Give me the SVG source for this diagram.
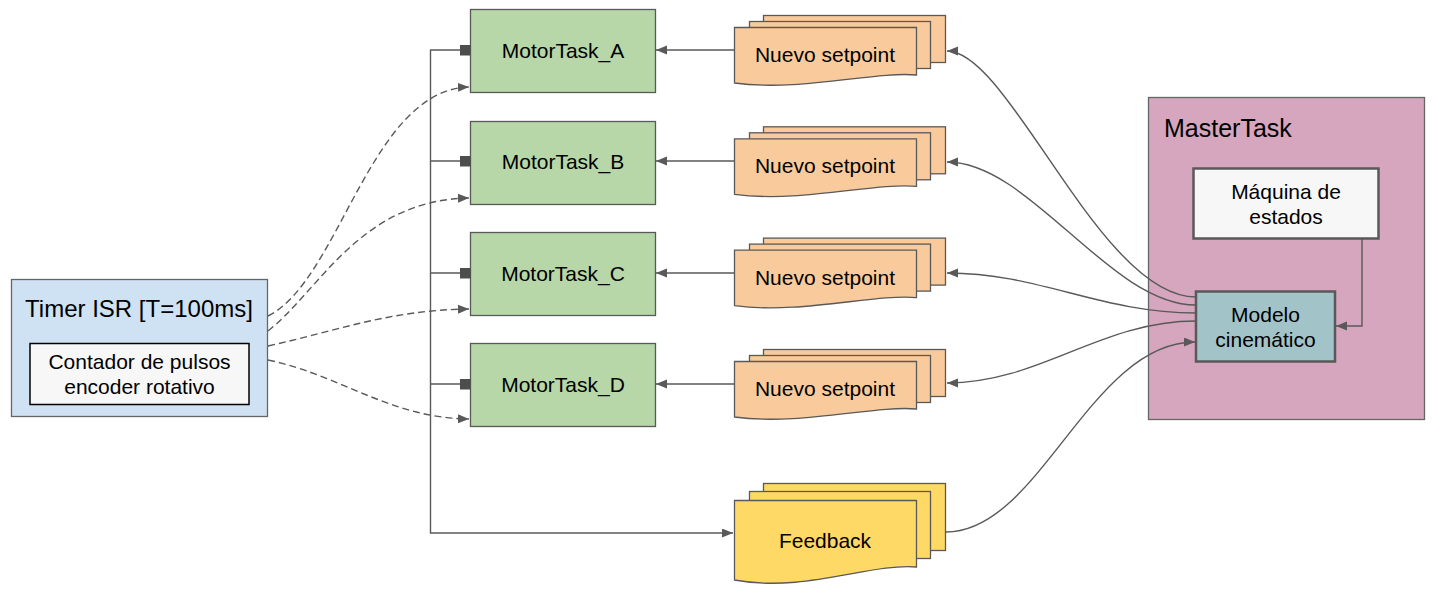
<svg xmlns="http://www.w3.org/2000/svg" width="1446" height="595" viewBox="0 0 1446 595">
<defs>
<marker id="arr" markerUnits="userSpaceOnUse" markerWidth="12" markerHeight="10" refX="11" refY="4.5" orient="auto">
<path d="M0,0 L11,4.5 L0,9 z" fill="#595959"/>
</marker>
<marker id="sq" markerUnits="userSpaceOnUse" markerWidth="12" markerHeight="12" refX="11" refY="5.5" orient="auto">
<rect x="0" y="0" width="11" height="11" fill="#4d4d4d"/>
</marker>
</defs>
<style>
text{font-family:"Liberation Sans",Arial,sans-serif;fill:#000;text-anchor:middle}
.t21{font-size:21px}
.t24{font-size:24px}
.motor{fill:#b7d7a8;stroke:#595959;stroke-width:1.3}
.sp{fill:#f9cb9c;stroke:#595959;stroke-width:1.3}
.fb{fill:#ffd966;stroke:#595959;stroke-width:1.3}
.e{fill:none;stroke:#595959;stroke-width:1.4}
.d{fill:none;stroke:#595959;stroke-width:1.4;stroke-dasharray:7 4}
</style>
<rect width="1446" height="595" fill="#fff"/>

<g id="mastertask">
<rect x="1148.5" y="97.5" width="276" height="322" fill="#d5a6bd" stroke="#666" stroke-width="1.3"/>
<text class="t24" x="1164" y="137" style="text-anchor:start;font-size:25px">MasterTask</text>
</g>
<g id="maquina">
<rect x="1193.5" y="168.5" width="185" height="70" fill="#f7f7f7" stroke="#595959" stroke-width="2.5"/>
<text class="t21" x="1286" y="199">Máquina de</text>
<text class="t21" x="1286" y="224">estados</text>
</g>
<g id="modelo">
<rect x="1196" y="291.5" width="139" height="70" fill="#a2c4c9" stroke="#595959" stroke-width="2.5"/>
<text class="t21" x="1265.5" y="322">Modelo</text>
<text class="t21" x="1265.5" y="347">cinemático</text>
</g>

<g id="timer">
<rect x="11.5" y="279.5" width="256" height="137" fill="#cfe2f3" stroke="#666" stroke-width="1.3"/>
<text class="t24" x="139" y="317">Timer ISR [T=100ms]</text>
<rect x="30" y="343.5" width="219" height="61" fill="#f7f7f7" stroke="#000" stroke-width="1.5"/>
<text class="t21" x="139.5" y="369">Contador de pulsos</text>
<text class="t21" x="139.5" y="394">encoder rotativo</text>
</g>

<g id="motor_a"><rect class="motor" x="470.5" y="9.5" width="185" height="83"/><text class="t21" x="563" y="58">MotorTask_A</text></g>
<g id="motor_b"><rect class="motor" x="470.5" y="121.5" width="185" height="83"/><text class="t21" x="563" y="169">MotorTask_B</text></g>
<g id="motor_c"><rect class="motor" x="470.5" y="232.5" width="185" height="83"/><text class="t21" x="563" y="281">MotorTask_C</text></g>
<g id="motor_d"><rect class="motor" x="470.5" y="343.5" width="185" height="83"/><text class="t21" x="563" y="392">MotorTask_D</text></g>

<g id="setpoint_a">
<rect class="sp" x="763.5" y="15.5" width="182" height="47"/>
<rect class="sp" x="749.5" y="21.5" width="181" height="47"/>
<path class="sp" d="M734.5,27.5 H916.5 V75 C875,71 800,92 734.5,83 Z"/>
<text class="t21" x="825" y="62">Nuevo setpoint</text>
</g>
<g id="setpoint_b" transform="translate(0,111.3)">
<rect class="sp" x="763.5" y="15.5" width="182" height="47"/>
<rect class="sp" x="749.5" y="21.5" width="181" height="47"/>
<path class="sp" d="M734.5,27.5 H916.5 V75 C875,71 800,92 734.5,83 Z"/>
<text class="t21" x="825" y="62">Nuevo setpoint</text>
</g>
<g id="setpoint_c" transform="translate(0,222.6)">
<rect class="sp" x="763.5" y="15.5" width="182" height="47"/>
<rect class="sp" x="749.5" y="21.5" width="181" height="47"/>
<path class="sp" d="M734.5,27.5 H916.5 V75 C875,71 800,92 734.5,83 Z"/>
<text class="t21" x="825" y="62">Nuevo setpoint</text>
</g>
<g id="setpoint_d" transform="translate(0,334)">
<rect class="sp" x="763.5" y="15.5" width="182" height="47"/>
<rect class="sp" x="749.5" y="21.5" width="181" height="47"/>
<path class="sp" d="M734.5,27.5 H916.5 V75 C875,71 800,92 734.5,83 Z"/>
<text class="t21" x="825" y="62">Nuevo setpoint</text>
</g>

<g id="feedback">
<rect class="fb" x="763.5" y="483.5" width="182" height="67"/>
<rect class="fb" x="749.5" y="491.5" width="181" height="67"/>
<path class="fb" d="M734.5,500.5 H916.5 V567 C870,563 805,593 734.5,580 Z"/>
<text class="t21" x="825" y="548">Feedback</text>
</g>

<g id="connectors">
<path class="e" d="M734,50 H656" marker-end="url(#arr)"/>
<path class="e" d="M734,161 H656" marker-end="url(#arr)"/>
<path class="e" d="M734,273 H656" marker-end="url(#arr)"/>
<path class="e" d="M734,384 H656" marker-end="url(#arr)"/>

<path class="e" stroke-width="1.8" d="M430.5,50 V533 H733" marker-end="url(#arr)"/>
<path class="e" d="M430,50 H470.5" marker-end="url(#sq)"/>
<path class="e" d="M430,161 H470.5" marker-end="url(#sq)"/>
<path class="e" d="M430,273 H470.5" marker-end="url(#sq)"/>
<path class="e" d="M430,384 H470.5" marker-end="url(#sq)"/>

<path class="d" d="M268,316 C340,280 370,90 469,87" marker-end="url(#arr)"/>
<path class="d" d="M268,331 C320,290 360,200 469,198" marker-end="url(#arr)"/>
<path class="d" d="M268,346 C340,330 390,310 469,309" marker-end="url(#arr)"/>
<path class="d" d="M268,360 C340,375 390,418 469,419" marker-end="url(#arr)"/>

<path class="e" d="M1196,297 C1100,297 1010,51 947,51" marker-end="url(#arr)"/>
<path class="e" d="M1196,305 C1110,305 1030,162 947,162" marker-end="url(#arr)"/>
<path class="e" d="M1196,313 C1100,313 1040,273 947,273" marker-end="url(#arr)"/>
<path class="e" d="M1196,321 C1100,321 1040,383 947,383" marker-end="url(#arr)"/>
<path class="e" d="M946,532 C1040,532 1090,342 1195,342" marker-end="url(#arr)"/>

<path class="e" d="M1362,239 V326 H1336" marker-end="url(#arr)"/>
</g>
</svg>
